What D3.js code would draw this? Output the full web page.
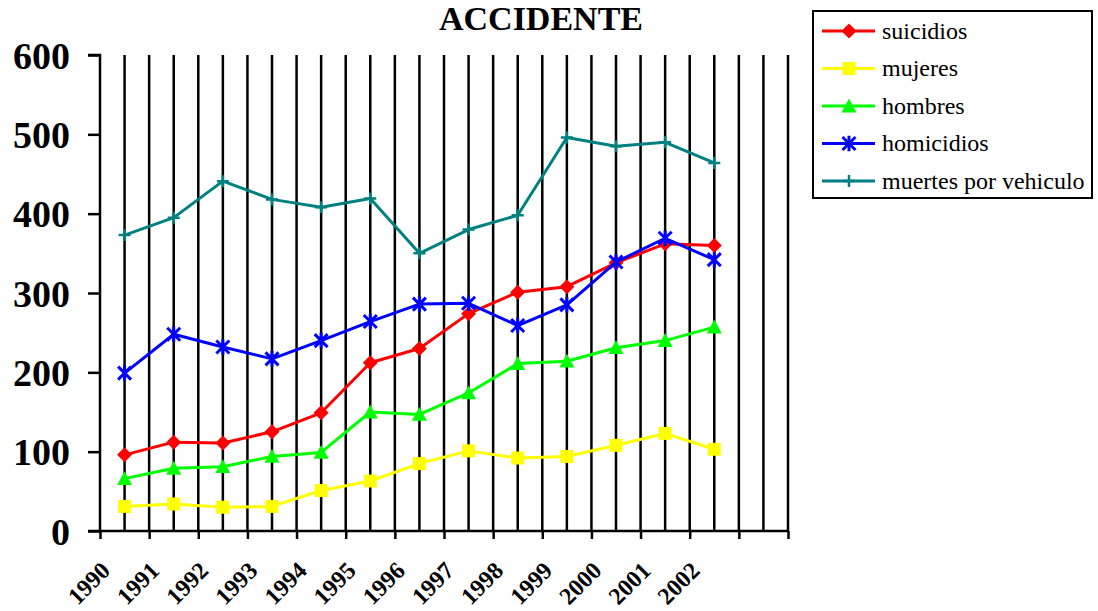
<!DOCTYPE html>
<html>
<head>
<meta charset="utf-8">
<script src="https://cdn.jsdelivr.net/npm/d3@7"></script>
<style>
  html, body { margin: 0; padding: 0; background: #fff; }
  svg { display: block; }
  svg text { font-family: "Liberation Serif", "Times New Roman", Times, "DejaVu Serif", serif; }
</style>
</head>
<body>
<svg id="chart" width="1098" height="611"></svg>
<script>
const title = "ACCIDENTE";
const years = ["1990","1991","1992","1993","1994","1995","1996","1997","1998","1999","2000","2001","2002"];
const yTicks = [0, 100, 200, 300, 400, 500, 600];
const seriesNames = ["suicidios", "mujeres", "hombres", "homicidios", "muertes por vehiculo"];
const suicidios  = [96, 112, 111, 125, 149, 212, 230, 274, 301, 308, 338, 362, 360];
const mujeres    = [31, 34, 30, 31, 51, 63, 85, 101, 92, 94, 108, 123, 103];
const hombres    = [66, 79, 81, 94, 99, 150, 147, 174, 211, 214, 231, 240, 257];
const homicidios = [199, 248, 232, 217, 240, 264, 286, 287, 259, 285, 339, 369, 342];
const vehiculo   = [373, 395, 441, 418, 408, 419, 350, 380, 398, 496, 485, 490, 464];

const seriesValues = [suicidios, mujeres, hombres, homicidios, vehiculo];
const colors = ["#FF0000", "#FFFF00", "#00FF00", "#0000FF", "#008080"];
const markers = ["diamond", "square", "triangle", "asterisk", "plus"];

const svg = d3.select("#chart");
const nBands = years.length + 1; // one empty category slot at the end
const x = d3.scaleLinear().domain([0, nBands]).range([100, 788]);
const y = d3.scaleLinear().domain([0, 600]).range([531, 55]);

// title
svg.append("text").attr("x", 541).attr("y", 30).attr("text-anchor", "middle")
  .attr("font-weight", "bold").attr("font-size", 34)
  .text(title);

// vertical gridlines every half category
const gridG = svg.append("g");
d3.range(1, nBands * 2 + 1).forEach(k => {
  const gx = x(k / 2);
  gridG.append("line").attr("x1", gx).attr("x2", gx)
    .attr("y1", y(600)).attr("y2", y(0))
    .attr("stroke", "#000").attr("stroke-width", 2.5);
});

// y axis
const yAxis = d3.axisLeft(y).tickValues(yTicks).tickSize(12).tickFormat(d3.format("d"));
const yg = svg.append("g").attr("transform", `translate(${x(0)},0)`).call(yAxis);
yg.attr("font-family", null);
yg.select(".domain").attr("stroke", "#000").attr("stroke-width", 2.5).attr("d", `M-12,${y(600)}H0V${y(0)}`);
yg.selectAll(".tick line").attr("stroke", "#000").attr("stroke-width", 2.5);
yg.selectAll(".tick text").attr("font-weight", "bold")
  .attr("font-size", 38).attr("fill", "#000").attr("x", -30).attr("dy", "0.35em");

// x axis (ticks at category boundaries)
const xAxis = d3.axisBottom(x).tickValues(d3.range(0, nBands + 1)).tickSize(8).tickFormat("");
const xg = svg.append("g").attr("transform", `translate(0,${y(0)})`).call(xAxis);
xg.select(".domain").attr("stroke", "#000").attr("stroke-width", 2.5).attr("d", `M${x(0) - 12},0H${x(nBands)}`);
xg.selectAll(".tick line").attr("stroke", "#000").attr("stroke-width", 2.5);

// x labels
svg.append("g").selectAll("text").data(years).join("text")
  .attr("transform", (d, i) => `translate(${x(i + 0.5) - 13},572) rotate(-45)`)
  .attr("text-anchor", "end")
  .attr("font-weight", "bold").attr("font-size", 24)
  .text(d => d);

function markerPath(type, s) {
  switch (type) {
    case "diamond": return `M0,${-s}L${s},0L0,${s}L${-s},0Z`;
    case "square": return `M${-s},${-s}H${s}V${s}H${-s}Z`;
    case "triangle": return `M0,${-s}L${s},${s * 0.85}L${-s},${s * 0.85}Z`;
    case "asterisk": return `M${-s},${-s}L${s},${s}M${s},${-s}L${-s},${s}M0,${-s * 1.2}V${s * 1.2}`;
    case "plus": return `M${-s},0H${s}M0,${-s}V${s}`;
  }
}
const markerSize = { diamond: 7.5, square: 6.5, triangle: 7.5, asterisk: 6.5, plus: 6 };

function drawMarker(g, type, color) {
  const p = g.append("path").attr("d", markerPath(type, markerSize[type]));
  if (type === "asterisk" || type === "plus") {
    p.attr("fill", "none").attr("stroke", color).attr("stroke-width", type === "asterisk" ? 3 : 2.5);
  } else {
    p.attr("fill", color).attr("stroke", "none");
  }
}

const line = d3.line().x((d, i) => x(i + 0.5)).y(d => y(d));
seriesValues.forEach((vals, si) => {
  const g = svg.append("g");
  g.append("path").attr("d", line(vals)).attr("fill", "none")
    .attr("stroke", colors[si]).attr("stroke-width", 3).attr("stroke-linejoin", "round");
  vals.forEach((v, i) => {
    const mg = g.append("g").attr("transform", `translate(${x(i + 0.5)},${y(v)})`);
    drawMarker(mg, markers[si], colors[si]);
  });
});

// legend
const lg = svg.append("g");
lg.append("rect").attr("x", 813).attr("y", 11).attr("width", 279).attr("height", 187)
  .attr("fill", "#fff").attr("stroke", "#000").attr("stroke-width", 2);
const legendY = d3.scalePoint().domain(seriesNames).range([31, 181]);
seriesNames.forEach((name, si) => {
  const ly = legendY(name);
  lg.append("line").attr("x1", 822).attr("x2", 875).attr("y1", ly).attr("y2", ly)
    .attr("stroke", colors[si]).attr("stroke-width", 3);
  const mg = lg.append("g").attr("transform", `translate(849,${ly})`);
  drawMarker(mg, markers[si], colors[si]);
  lg.append("text").attr("x", 882).attr("y", ly).attr("dy", "0.32em")
    .attr("font-size", 24).attr("fill", "#000").text(name);
});
</script>
</body>
</html>
